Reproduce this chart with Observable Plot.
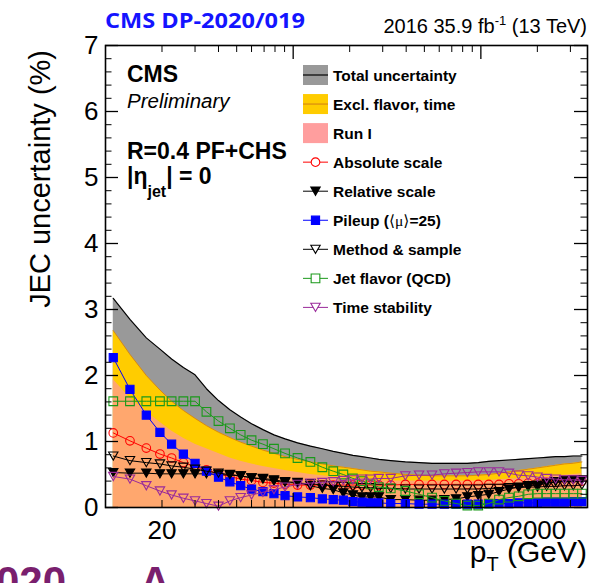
<!DOCTYPE html>
<html>
<head>
<meta charset="utf-8">
<script src="https://cdn.jsdelivr.net/npm/d3@7"></script>
<script src="https://cdn.jsdelivr.net/npm/@observablehq/plot@0.6"></script>
<style>
  html, body { margin: 0; padding: 0; background: white; }
  #chart { width: 591px; height: 583px; overflow: hidden; }
</style>
</head>
<body>
<div id="chart"></div>
<script>
// ---- data ----
const pt = [11, 13.5, 16.5, 19.5, 22.5, 26, 30, 34.5, 40, 46, 52.5, 60, 69, 79, 90.5, 105.5, 123.5, 143, 163.5, 185, 208, 232.5, 258.5, 286, 331, 396, 468.5, 549.5, 639, 738, 847.5, 968.5, 1102, 1249.5, 1412, 1590.5, 1787, 2003, 2241, 2503, 2790.5, 3107, 3455];
const totalUnc = [3.17, 2.85, 2.57, 2.40, 2.25, 2.12, 2.01, 1.80, 1.62, 1.48, 1.37, 1.27, 1.18, 1.10, 1.04, 0.98, 0.93, 0.89, 0.85, 0.82, 0.79, 0.77, 0.75, 0.73, 0.71, 0.69, 0.68, 0.67, 0.67, 0.67, 0.67, 0.68, 0.70, 0.71, 0.72, 0.73, 0.74, 0.75, 0.76, 0.77, 0.77, 0.78, 0.78];
const exclFlavorTime = [2.68, 2.32, 2.00, 1.78, 1.61, 1.47, 1.35, 1.24, 1.14, 1.06, 0.99, 0.93, 0.87, 0.82, 0.77, 0.73, 0.69, 0.66, 0.63, 0.61, 0.59, 0.57, 0.55, 0.54, 0.52, 0.50, 0.49, 0.48, 0.48, 0.48, 0.48, 0.49, 0.50, 0.52, 0.54, 0.56, 0.58, 0.60, 0.62, 0.64, 0.66, 0.67, 0.69];
const runI = [1.94, 1.66, 1.45, 1.29, 1.16, 1.05, 0.96, 0.89, 0.82, 0.75, 0.70, 0.66, 0.62, 0.59, 0.56, 0.53, 0.50, 0.48, 0.46, 0.45, 0.44, 0.43, 0.42, 0.41, 0.40, 0.40, 0.40, 0.40, 0.40, 0.40, 0.40, 0.40, 0.41, 0.42, 0.43, 0.44, 0.45, 0.46, 0.47, 0.48, 0.49, 0.50, 0.51];
const absoluteScale = [1.13, 1.01, 0.90, 0.81, 0.75, 0.68, 0.62, 0.57, 0.51, 0.47, 0.43, 0.41, 0.38, 0.37, 0.35, 0.34, 0.34, 0.34, 0.34, 0.34, 0.34, 0.34, 0.34, 0.34, 0.34, 0.35, 0.35, 0.35, 0.35, 0.35, 0.35, 0.35, 0.35, 0.35, 0.36, 0.36, 0.37, 0.37, 0.38, 0.38, 0.39, 0.39, 0.40];
const relativeScale = [0.53, 0.52, 0.52, 0.51, 0.51, 0.51, 0.51, 0.51, 0.50, 0.49, 0.48, 0.45, 0.44, 0.42, 0.39, 0.38, 0.33, 0.29, 0.27, 0.22, 0.19, 0.16, 0.16, 0.16, 0.12, 0.12, 0.11, 0.11, 0.12, 0.13, 0.16, 0.18, 0.20, 0.24, 0.28, 0.31, 0.33, 0.34, 0.37, 0.39, 0.41, 0.42, 0.42];
const pileup = [2.27, 1.79, 1.40, 1.14, 0.96, 0.81, 0.67, 0.55, 0.46, 0.39, 0.33, 0.28, 0.24, 0.21, 0.18, 0.16, 0.15, 0.13, 0.12, 0.11, 0.09, 0.08, 0.07, 0.07, 0.06, 0.06, 0.05, 0.05, 0.05, 0.05, 0.05, 0.05, 0.06, 0.06, 0.06, 0.07, 0.07, 0.07, 0.08, 0.08, 0.08, 0.09, 0.09];
const methodSample = [0.78, 0.71, 0.68, 0.66, 0.63, 0.61, 0.58, 0.55, 0.52, 0.50, 0.48, 0.45, 0.43, 0.40, 0.38, 0.37, 0.36, 0.34, 0.33, 0.32, 0.31, 0.30, 0.30, 0.29, 0.29, 0.28, 0.28, 0.28, 0.28, 0.28, 0.28, 0.28, 0.29, 0.29, 0.30, 0.30, 0.31, 0.31, 0.32, 0.32, 0.33, 0.33, 0.34];
const jetFlavor = [1.61, 1.61, 1.61, 1.61, 1.61, 1.61, 1.61, 1.45, 1.31, 1.20, 1.10, 1.02, 0.96, 0.89, 0.82, 0.75, 0.69, 0.61, 0.55, 0.50, 0.44, 0.40, 0.35, 0.31, 0.29, 0.25, 0.20, 0.15, 0.10, 0.06, 0.03, 0.03, 0.06, 0.12, 0.15, 0.17, 0.20, 0.21, 0.21, 0.21, 0.21, 0.21, 0.21];
const timeStability = [0.47, 0.43, 0.33, 0.25, 0.19, 0.14, 0.10, 0.06, 0.02, 0.10, 0.15, 0.19, 0.23, 0.27, 0.31, 0.35, 0.37, 0.38, 0.39, 0.41, 0.42, 0.43, 0.43, 0.44, 0.44, 0.48, 0.49, 0.49, 0.51, 0.52, 0.53, 0.54, 0.54, 0.54, 0.52, 0.49, 0.48, 0.46, 0.44, 0.43, 0.42, 0.42, 0.41];

const yTickLabels = [0, 1, 2, 3, 4, 5, 6, 7];
const xTickLabels = [20, 100, 200, 1000, 2000];
const xMinorTicks = [20, 30, 40, 50, 60, 70, 80, 90, 200, 300, 400, 500, 600, 700, 800, 900, 2000, 3000];
const xMajorTicks = [100, 1000];

const bandNames = ["Total uncertainty", "Excl. flavor, time", "Run I"];
const seriesNames = ["Absolute scale", "Relative scale", "Pileup", "Method & sample", "Jet flavor (QCD)", "Time stability"];

// ---- layout / style ----
const W = 591, H = 583;
const mL = 105, mR = 4, mT = 45, mB = 76;
const frameW = W - mL - mR, frameH = H - mT - mB;
const font = "'Liberation Sans', Arial, Helvetica, sans-serif";

const triangleDown = {
  draw(context, size) {
    const r = Math.sqrt(size / Math.PI);
    const h = r * 0.87;
    context.moveTo(-r, -h);
    context.lineTo(r, -h);
    context.lineTo(0, h);
    context.closePath();
  }
};

const seriesStyle = [
  {values: absoluteScale, color: "#ff0000", symbol: "circle", fill: "none", r: 4.3},
  {values: relativeScale, color: "#000000", symbol: triangleDown, fill: "#000000", r: 4.7},
  {values: pileup, color: "#0000ff", symbol: "square", fill: "#0000ff", r: 4.6},
  {values: methodSample, color: "#000000", symbol: triangleDown, fill: "none", r: 4.7},
  {values: jetFlavor, color: "#1a991a", symbol: "square", fill: "none", r: 4.9},
  {values: timeStability, color: "#9a2a9a", symbol: triangleDown, fill: "none", r: 4.7}
];

const rows = pt.map((p, i) => ({pt: p, total: totalUnc[i], excl: exclFlavorTime[i], run1: runI[i]}));

const seriesMarks = [];
seriesStyle.forEach((s, k) => {
  const d = pt.map((p, i) => ({pt: p, v: s.values[i]}));
  seriesMarks.push(Plot.line(d, {x: "pt", y: "v", stroke: s.color, strokeWidth: 1}));
  seriesMarks.push(Plot.dot(d, {x: "pt", y: "v", symbol: s.symbol, r: s.r, stroke: s.color, fill: s.fill, strokeWidth: 1.1}));
});

const chart = Plot.plot({
  width: W, height: H,
  marginLeft: mL, marginRight: mR, marginTop: mT, marginBottom: mB,
  x: {type: "log", domain: [10, 3700]},
  y: {domain: [0, 7]},
  style: {fontFamily: font, fontSize: "26px", background: "white", overflow: "hidden"},
  marks: [
    Plot.areaY(rows, {x: "pt", y: "total", fill: "#999999"}),
    Plot.line(rows, {x: "pt", y: "total", stroke: "#000000", strokeWidth: 1.2}),
    Plot.areaY(rows, {x: "pt", y: "excl", fill: "#ffcc00"}),
    Plot.line(rows, {x: "pt", y: "excl", stroke: "#d98a10", strokeWidth: 1}),
    Plot.areaY(rows, {x: "pt", y: "run1", fill: "#ff9999", fillOpacity: 0.72}),
    ...seriesMarks,
    // inward ticks (ROOT style) on all four sides
    Plot.tickX(xMinorTicks, {x: d => d, insetTop: frameH - 7, stroke: "black"}),
    Plot.tickX(xMinorTicks, {x: d => d, insetBottom: frameH - 7, stroke: "black"}),
    Plot.tickX(xMajorTicks, {x: d => d, insetTop: frameH - 14, stroke: "black", strokeWidth: 1.3}),
    Plot.tickX(xMajorTicks, {x: d => d, insetBottom: frameH - 14, stroke: "black", strokeWidth: 1.3}),
    Plot.tickY(d3.range(0.2, 7, 0.2), {y: d => d, insetRight: frameW - 6.5, stroke: "black"}),
    Plot.tickY(d3.range(0.2, 7, 0.2), {y: d => d, insetLeft: frameW - 6.5, stroke: "black"}),
    Plot.tickY(yTickLabels, {y: d => d, insetRight: frameW - 13, stroke: "black", strokeWidth: 1.3}),
    Plot.tickY(yTickLabels, {y: d => d, insetLeft: frameW - 13, stroke: "black", strokeWidth: 1.3}),
    Plot.frame({stroke: "black", strokeWidth: 1.6}),
    Plot.axisX({ticks: xTickLabels, tickSize: 0, tickPadding: 13, tickFormat: d => String(d), label: null, fontSize: 26}),
    Plot.axisY({ticks: yTickLabels, tickSize: 0, tickPadding: 7, tickFormat: d => String(d), label: null, fontSize: 26})
  ]
});

document.getElementById("chart").appendChild(chart);

// ---- annotations ----
const svg = d3.select(chart);
svg.attr("overflow", "hidden");
const g = svg.append("g").attr("font-family", font).attr("fill", "black").attr("text-anchor", "start");

// header
g.append("text").attr("x", 105).attr("y", 28)
  .attr("font-family", "'Open Sans', 'DejaVu Sans', sans-serif").attr("font-weight", "bold")
  .attr("font-size", 21).attr("fill", "#1414ff")
  .attr("textLength", 200).attr("lengthAdjust", "spacingAndGlyphs")
  .text("CMS DP-2020/019");
const lumi = g.append("text").attr("x", 587).attr("y", 33).attr("text-anchor", "end").attr("font-size", 20);
lumi.append("tspan").text("2016 35.9 fb");
lumi.append("tspan").attr("font-size", 13).attr("dy", -8).text("-1");
lumi.append("tspan").attr("dy", 8).text(" (13 TeV)");

// CMS labels inside frame
g.append("text").attr("x", 127).attr("y", 82).attr("font-size", 23).attr("font-weight", "bold").text("CMS");
g.append("text").attr("x", 127).attr("y", 108).attr("font-size", 20.5).attr("font-style", "italic").text("Preliminary");
g.append("text").attr("x", 127).attr("y", 159).attr("font-size", 23).attr("font-weight", "bold").text("R=0.4 PF+CHS");
const eta = g.append("text").attr("x", 127).attr("y", 184).attr("font-size", 23).attr("font-weight", "bold");
eta.append("tspan").text("|η");
eta.append("tspan").attr("font-size", 16).attr("dy", 13).text("jet");
eta.append("tspan").attr("dy", -13).text("| = 0");

// axis titles
g.append("text").attr("transform", "translate(50,50) rotate(-90)").attr("text-anchor", "end")
  .attr("font-size", 29).text("JEC uncertainty (%)");
const xt = g.append("text").attr("x", 587).attr("y", 562).attr("text-anchor", "end").attr("font-size", 30);
xt.append("tspan").text("p");
xt.append("tspan").attr("font-size", 20).attr("dy", 9).text("T");
xt.append("tspan").attr("dy", -9).text(" (GeV)");

// cut-off purple text at the bottom
g.append("text").attr("x", 66).attr("y", 596).attr("text-anchor", "end").attr("font-size", 42)
  .attr("font-weight", "bold").attr("fill", "#7a1f6e").text("2020");
g.append("text").attr("x", 140).attr("y", 596).attr("font-size", 42)
  .attr("font-weight", "bold").attr("fill", "#7a1f6e").text("A");

// legend
const lx0 = 303, lx1 = 328, ltx = 333, ly0 = 75, ldy = 29.05;
const bandStyles = [
  {fill: "#999999", line: "#000000"},
  {fill: "#ffcc00", line: "#d98a10"},
  {fill: "#ff9e9e", line: null}
];
bandNames.forEach((name, i) => {
  const y = ly0 + i * ldy;
  g.append("rect").attr("x", lx0).attr("y", y - 10).attr("width", lx1 - lx0).attr("height", 20).attr("fill", bandStyles[i].fill);
  if (bandStyles[i].line) g.append("line").attr("x1", lx0).attr("x2", lx1).attr("y1", y).attr("y2", y).attr("stroke", bandStyles[i].line).attr("stroke-width", 1.2);
  g.append("text").attr("x", ltx).attr("y", y).attr("dy", "0.36em").attr("font-size", 15.5).attr("font-weight", "bold").text(name);
});
seriesNames.forEach((name, k) => {
  const s = seriesStyle[k];
  const y = ly0 + (k + 3) * ldy;
  g.append("line").attr("x1", lx0).attr("x2", lx1).attr("y1", y).attr("y2", y).attr("stroke", s.color).attr("stroke-width", 1);
  const type = s.symbol === "circle" ? d3.symbolCircle : s.symbol === "square" ? d3.symbolSquare : s.symbol;
  g.append("path").attr("transform", `translate(${(lx0 + lx1) / 2},${y})`)
    .attr("d", d3.symbol(type, Math.PI * s.r * s.r)())
    .attr("fill", s.fill === "none" ? "white" : s.fill).attr("stroke", s.color).attr("stroke-width", 1.1);
  const t = g.append("text").attr("x", ltx).attr("y", y).attr("dy", "0.36em").attr("font-size", 15.5).attr("font-weight", "bold");
  if (name === "Pileup") {
    t.append("tspan").text("Pileup (");
    t.append("tspan").attr("font-family", "'DejaVu Sans', sans-serif").attr("font-weight", "normal").text("⟨");
    t.append("tspan").attr("font-family", "'Liberation Serif', serif").attr("font-weight", "normal").text("μ");
    t.append("tspan").attr("font-family", "'DejaVu Sans', sans-serif").attr("font-weight", "normal").text("⟩");
    t.append("tspan").text("=25)");
  } else {
    t.text(name);
  }
});
</script>
</body>
</html>
